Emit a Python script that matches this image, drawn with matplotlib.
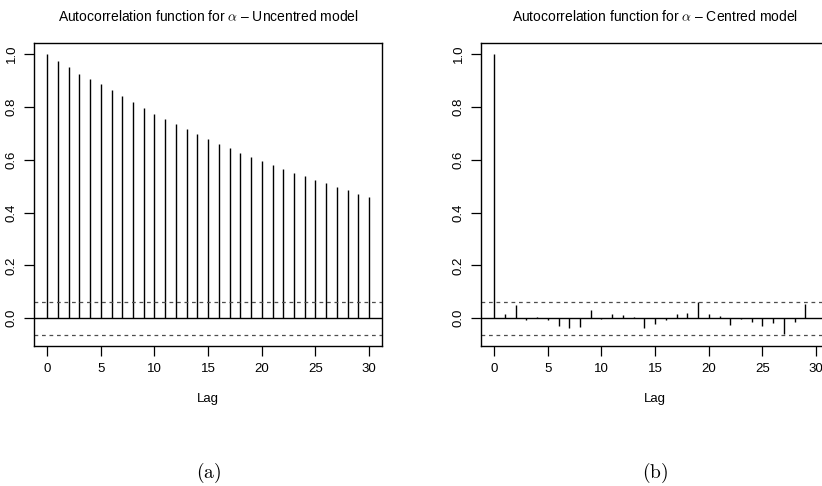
import matplotlib
matplotlib.use("Agg")
import matplotlib.pyplot as plt
import numpy as np

plt.rcParams['font.family'] = ['Liberation Sans', 'DejaVu Sans']
plt.rcParams['mathtext.fontset'] = 'cm'

# acf values
lags = np.arange(31)
acf_uncentred = [1.000, 0.973, 0.949, 0.926, 0.905, 0.886, 0.865, 0.842, 0.820, 0.796,
                 0.773, 0.753, 0.734, 0.715, 0.696, 0.679, 0.660, 0.643, 0.626, 0.611,
                 0.594, 0.579, 0.564, 0.550, 0.538, 0.524, 0.510, 0.497, 0.485, 0.471,
                 0.458]
acf_centred = [1.000, 0.018, 0.050, -0.006, 0.003, -0.008, -0.028, -0.035, -0.034, 0.033,
               -0.004, 0.018, 0.011, 0.005, -0.035, -0.021, -0.008, 0.015, 0.020, 0.060,
               0.018, 0.010, -0.025, -0.002, -0.014, -0.030, -0.016, -0.058, -0.013, 0.053,
               0.001]
clim = 0.063
titles = [r'Autocorrelation function for $\alpha$ – Uncentred model',
          r'Autocorrelation function for $\alpha$ – Centred model']
sublabels = ['(a)', '(b)']

fig = plt.figure(figsize=(8.22, 4.86), dpi=100)
positions = [[0.0417, 0.288, 0.423, 0.624], [0.5855, 0.288, 0.423, 0.624]]

for pos, vals, title, sub in zip(positions, [acf_uncentred, acf_centred], titles, sublabels):
    ax = fig.add_axes(pos)
    ax.vlines(lags, 0, vals, color='black', lw=1.0)
    ax.axhline(0, color='black', lw=1.0)
    for c in (clim, -clim):
        ax.axhline(c, color='0.3', lw=0.9, linestyle=(0, (3, 3)))
    ax.set_xlim(-1.2, 31.2)
    ax.set_ylim(-0.105, 1.0425)
    ax.set_xticks(np.arange(0, 31, 5))
    ax.set_yticks([0.0, 0.2, 0.4, 0.6, 0.8, 1.0])
    ax.set_yticklabels(['0.0', '0.2', '0.4', '0.6', '0.8', '1.0'], rotation=90, va='center')
    ax.tick_params(length=7, width=0.9, labelsize=9.5, pad=5)
    for s in ax.spines.values():
        s.set_linewidth(1.0)
    ax.set_xlabel('Lag', fontsize=9.5, labelpad=13)
    ax.set_title(title, fontsize=10, pad=16)
    ax.text(0.5, -0.42, r'$\mathrm{' + sub + '}$', transform=ax.transAxes,
            ha='center', va='center', fontsize=14)

fig.savefig('out.png', dpi=100)
